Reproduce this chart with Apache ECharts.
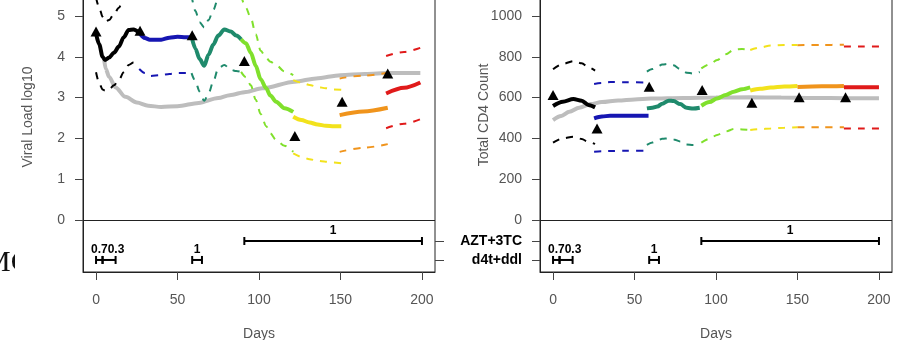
<!DOCTYPE html>
<html>
<head>
<meta charset="utf-8">
<script src="https://cdn.jsdelivr.net/npm/echarts@6/dist/echarts.min.js"></script>
<style>
  html, body { margin: 0; padding: 0; background: #fff; }
  #chart { width: 899px; height: 340px; }
</style>
</head>
<body>
<div id="chart"></div>
<script>
// observed values (triangles)
const vlObsDay = [0, 27, 59, 91, 122, 151, 179];
const vlObs = [4.62, 4.64, 4.53, 3.90, 2.06, 2.90, 3.59];
const cdObsDay = [0, 27, 59, 91.5, 122, 151, 179.5];
const cdObs = [613, 449, 653, 637, 575, 601, 601];

// population mean (grey curve)
const vlPopDay = [5, 6, 8, 12, 18, 25, 32, 40, 50, 63, 75, 82, 92, 102, 122, 135, 150, 165, 180, 199];
const vlPop = [3.92, 3.7, 3.51, 3.25, 3.02, 2.88, 2.8, 2.77, 2.79, 2.87, 2.99, 3.06, 3.14, 3.23, 3.39, 3.47, 3.55, 3.58, 3.6, 3.6];
const cdPopDay = [0, 5, 10, 16, 23, 30, 40, 50, 60, 80, 100, 120, 140, 160, 180, 200];
const cdPop = [490, 510, 530, 550, 568, 578, 586, 591, 595, 598, 600, 601, 600, 598, 597, 597];

// individual fit per period: [day, fit, lower, upper]
const vlBlack = [[0, 4.57, 3.62, 5.45], [2, 4.3, 3.35, 5.2], [4, 4.0, 3.2, 4.98], [5.5, 3.92, 3.17, 4.86], [8, 3.98, 3.2, 4.9], [11, 4.1, 3.3, 5.05], [14, 4.25, 3.43, 5.2], [17, 4.48, 3.62, 5.45], [20, 4.66, 3.8, 5.6], [23, 4.67, 3.86, 5.6], [26.5, 4.59, 3.8, 5.5]];
const vlBlue = [[26.5, 4.59, 3.7, 5.6], [30, 4.46, 3.6, 5.5], [33, 4.42, 3.53, 5.5], [40, 4.42, 3.55, 5.5], [45, 4.47, 3.58, 5.55], [50, 4.49, 3.6, 5.55], [55, 4.48, 3.6, 5.55], [58.6, 4.48, 3.6, 5.55]];
const vlTeal = [[58.6, 4.5, 3.6, 5.5], [61, 4.2, 3.4, 5.12], [63.5, 3.95, 3.15, 4.85], [66.4, 3.78, 2.92, 4.72], [69, 4.05, 3.1, 4.9], [72, 4.3, 3.4, 5.15], [75, 4.52, 3.72, 5.45], [78.7, 4.67, 3.8, 5.6], [82.8, 4.62, 3.68, 5.55], [86, 4.52, 3.65, 5.5], [89, 4.43, 3.63, 5.45]];
const vlGreen = [[89, 4.43, 3.63, 5.5], [92, 4.33, 3.5, 5.2], [95, 4.1, 3.3, 4.95], [98, 3.78, 2.95, 4.55], [101, 3.45, 2.6, 4.15], [104.4, 3.23, 2.3, 3.97], [107, 3.05, 2.12, 3.88], [110.5, 2.9, 1.96, 3.8], [115.6, 2.74, 1.82, 3.64], [121, 2.65, 1.67, 3.55]];
const vlYellow = [[121, 2.53, 1.63, 3.43], [126, 2.45, 1.55, 3.37], [131, 2.39, 1.49, 3.31], [136, 2.34, 1.45, 3.26], [141, 2.31, 1.43, 3.23], [146, 2.3, 1.41, 3.2], [150.5, 2.3, 1.39, 3.19]];
const vlOrange = [[149.5, 2.57, 1.67, 3.47], [164, 2.66, 1.77, 3.54], [179, 2.75, 1.86, 3.61]];
const vlRed = [[178, 3.1, 2.25, 4.02], [189, 3.24, 2.36, 4.12], [199, 3.37, 2.47, 4.22]];

const cdBlack = [[0, 559, 379, 739], [6, 580, 400, 765], [12.5, 593, 408, 779], [17.6, 585, 397, 768], [21.7, 564, 382, 748], [25.8, 552, 373, 732]];
const cdBlue = [[25.2, 498, 335, 667], [30, 507, 337, 672], [35, 511, 338, 676], [45, 511, 339, 675], [58.6, 511, 340, 674]];
const cdTeal = [[57.6, 547, 368, 727], [61, 550, 380, 740], [64, 556, 390, 752], [67, 570, 398, 762], [71, 585, 400, 765], [74, 583, 395, 758], [78, 568, 385, 740], [82, 550, 370, 722], [86, 546, 367, 718], [90, 550, 370, 725]];
const cdGreen = [[91, 560, 379, 743], [96, 578, 398, 763], [100.7, 596, 417, 784], [106, 613, 434, 812], [111, 629, 446, 835], [116, 641, 444, 838], [121, 650, 441, 833]];
const cdYellow = [[121, 634, 441, 833], [127, 643, 445, 845], [133.5, 649, 449, 855], [142, 654, 452, 858], [150, 657, 454, 858]];
const cdOrange = [[150, 652, 454, 857], [165, 655, 455, 858], [178.5, 657, 455, 859]];
const cdRed = [[178.5, 650, 449, 850], [190, 650, 449, 850], [200, 650, 449, 850]];

// treatment timeline: [start, end, dose]
const drugNames = ['AZT+3TC', 'd4t+ddl'];
const aztDoses = [[91, 200, '1']];
const d4tDoses = [[0, 4, '0.7'], [4, 12, '0.3'], [59, 65, '1']];

const xTicks = [0, 50, 100, 150, 200];
const vlTicks = [0, 1, 2, 3, 4, 5];
const cdTicks = [0, 200, 400, 600, 800, 1000];

// ---- styling / layout ----
const segColors = ['#000000', '#1616b2', '#1f8a6c', '#80e02c', '#f2e21c', '#f0941c', '#e01a1a'];
const popColor = '#bdbdbd';
const rowFrac = [-0.103, -0.196];
const FONT = '"Liberation Sans", Arial, sans-serif';

const measureCtx = document.createElement('canvas').getContext('2d');
measureCtx.font = 'bold 12px ' + FONT;

const chart = echarts.init(document.getElementById('chart'));

function xAxisFor(gi) {
  return {
    gridIndex: gi, type: 'value', min: -8, max: 208,
    axisLine: { show: true, onZero: false, lineStyle: { color: '#222' } },
    axisTick: { show: true, length: 8, customValues: xTicks, lineStyle: { color: '#444' } },
    axisLabel: { customValues: xTicks, margin: 21, color: '#555', fontSize: 14, fontFamily: FONT },
    splitLine: { show: false },
    name: 'Days', nameLocation: 'middle', nameGap: 55,
    nameTextStyle: { color: '#555', fontSize: 14, fontFamily: FONT }
  };
}

function bandSeries(xi, yi, segs) {
  const out = [];
  segs.forEach((seg, k) => {
    const c = segColors[k];
    [[2, [7, 7], 2], [3, [7, 7], 2], [1, 'solid', 4]].forEach(([col, type, w]) => {
      out.push({
        type: 'line', xAxisIndex: xi, yAxisIndex: yi,
        data: seg.map(r => [r[0], r[col]]),
        showSymbol: false, smooth: 0.3, smoothMonotone: 'x',
        lineStyle: { color: c, width: w, type: type },
        z: type === 'solid' ? 4 : 3, silent: true
      });
    });
  });
  return out;
}

function popSeries(xi, yi, days, vals) {
  return {
    type: 'line', xAxisIndex: xi, yAxisIndex: yi,
    data: days.map((d, i) => [d, vals[i]]),
    showSymbol: false, smooth: 0.3, smoothMonotone: 'x',
    lineStyle: { color: popColor, width: 4 }, z: 2, silent: true,
    markLine: {
      silent: true, symbol: ['none', 'none'], label: { show: false },
      lineStyle: { color: '#222', type: 'solid', width: 1 },
      data: [{ yAxis: 0 }]
    }
  };
}

function obsSeries(xi, yi, days, vals) {
  return {
    type: 'scatter', xAxisIndex: xi, yAxisIndex: yi,
    data: days.map((d, i) => [d, vals[i]]),
    symbol: 'triangle', symbolSize: [11, 10],
    itemStyle: { color: '#000', opacity: 1 }, z: 10, silent: true
  };
}

function doseSeries(xi, yi, level, items) {
  let cursor = -Infinity;
  return {
    type: 'custom', xAxisIndex: xi, yAxisIndex: yi, z: 6, silent: true,
    data: items.map(d => [d[0], d[1], level]),
    encode: { x: [0, 1], y: 2 },
    renderItem(params, api) {
      if (params.dataIndex === 0) cursor = -Infinity;
      const a = api.coord([api.value(0), api.value(2)]);
      const b = api.coord([api.value(1), api.value(2)]);
      const txt = items[params.dataIndex][2];
      const w = measureCtx.measureText(txt).width;
      const cx = Math.max((a[0] + b[0]) / 2, cursor + w / 2);
      cursor = cx + w / 2;
      const ln = (x1, y1, x2, y2) => ({ type: 'line', shape: { x1, y1, x2, y2 }, style: { stroke: '#000', lineWidth: 2 } });
      return {
        type: 'group',
        children: [
          ln(a[0], a[1], b[0], b[1]),
          ln(a[0], a[1] - 4, a[0], a[1] + 4),
          ln(b[0], b[1] - 4, b[0], b[1] + 4),
          {
            type: 'text', x: cx, y: a[1] - 4,
            style: {
              text: txt, font: 'bold 12px ' + FONT, fill: '#000',
              align: 'center', verticalAlign: 'bottom', textAlign: 'center', textVerticalAlign: 'bottom'
            }
          }
        ]
      };
    }
  };
}

const vlRows = rowFrac.map(f => f * 5);
const cdRows = rowFrac.map(f => f * 1000);

chart.setOption({
  animation: false,
  backgroundColor: '#fff',
  grid: [
    { left: 83, top: -3, width: 352, height: 275, show: true, borderColor: '#222', borderWidth: 1, outerBoundsMode: 'none' },
    { left: 540, top: -3, width: 352, height: 275, show: true, borderColor: '#222', borderWidth: 1, outerBoundsMode: 'none' }
  ],
  xAxis: [xAxisFor(0), xAxisFor(1)],
  yAxis: [
    {
      gridIndex: 0, type: 'value', min: -1.275, max: 5.466,
      axisLine: { show: true, onZero: false, lineStyle: { color: '#222' } },
      axisTick: { show: true, length: 8, customValues: vlTicks, lineStyle: { color: '#444' } },
      axisLabel: { customValues: vlTicks, margin: 18, color: '#555', fontSize: 14, fontFamily: FONT },
      splitLine: { show: false }
    },
    {
      gridIndex: 0, type: 'value', position: 'right', min: -1.275, max: 5.466,
      axisLine: { show: false, onZero: false },
      axisTick: { show: true, length: 9, customValues: vlRows, lineStyle: { color: '#444' } },
      axisLabel: { show: false },
      splitLine: { show: false }
    },
    {
      gridIndex: 1, type: 'value', min: -255, max: 1093,
      axisLine: { show: true, onZero: false, lineStyle: { color: '#222' } },
      axisTick: { show: true, length: 8, customValues: cdRows.concat(cdTicks), lineStyle: { color: '#444' } },
      axisLabel: {
        customValues: cdRows.concat(cdTicks), margin: 18, color: '#555', fontSize: 14, fontFamily: FONT,
        formatter: v => {
          const i = cdRows.indexOf(v);
          return i >= 0 ? '{d|' + drugNames[i] + '}' : String(v);
        },
        rich: { d: { fontWeight: 'bold', color: '#000', fontSize: 14, fontFamily: FONT } }
      },
      splitLine: { show: false }
    }
  ],
  graphic: [
    {
      type: 'text', x: 28, y: 117, rotation: Math.PI / 2, z: 50,
      style: { text: 'Viral Load log10', font: '14px ' + FONT, fill: '#555', align: 'center', verticalAlign: 'middle', textAlign: 'center', textVerticalAlign: 'middle' }
    },
    {
      type: 'text', x: 484, y: 115, rotation: Math.PI / 2, z: 50,
      style: { text: 'Total CD4 Count', font: '14px ' + FONT, fill: '#555', align: 'center', verticalAlign: 'middle', textAlign: 'center', textVerticalAlign: 'middle' }
    },
    {
      type: 'text', x: -16, y: 263, z: 50,
      style: { text: 'MC', font: '30px "Liberation Serif", serif', fill: '#111', verticalAlign: 'middle', textVerticalAlign: 'middle' }
    },
    { type: 'rect', z: 60, shape: { x: 15, y: 238, width: 45, height: 50 }, style: { fill: '#fff' } }
  ],
  series: [
    popSeries(0, 0, vlPopDay, vlPop),
    ...bandSeries(0, 0, [vlBlack, vlBlue, vlTeal, vlGreen, vlYellow, vlOrange, vlRed]),
    obsSeries(0, 0, vlObsDay, vlObs),
    doseSeries(0, 0, vlRows[0], aztDoses),
    doseSeries(0, 0, vlRows[1], d4tDoses),

    popSeries(1, 2, cdPopDay, cdPop),
    ...bandSeries(1, 2, [cdBlack, cdBlue, cdTeal, cdGreen, cdYellow, cdOrange, cdRed]),
    obsSeries(1, 2, cdObsDay, cdObs),
    doseSeries(1, 2, cdRows[0], aztDoses),
    doseSeries(1, 2, cdRows[1], d4tDoses)
  ]
});
</script>
</body>
</html>
